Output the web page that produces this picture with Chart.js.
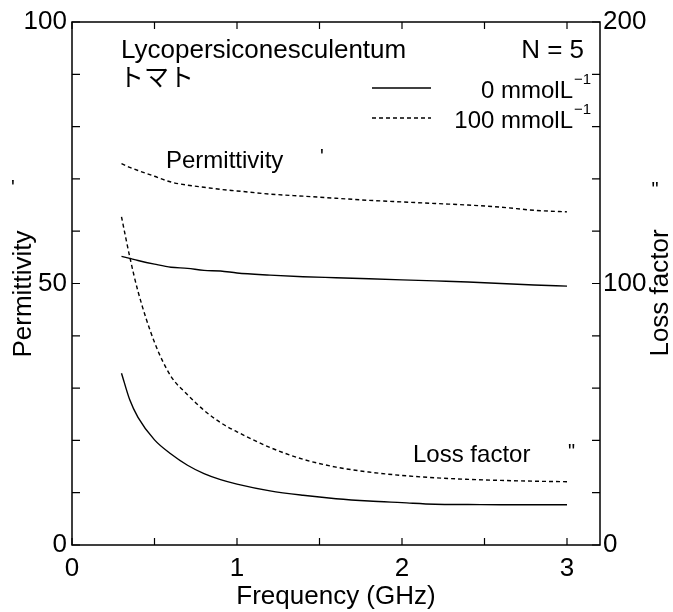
<!DOCTYPE html>
<html><head><meta charset="utf-8">
<script src="https://cdn.jsdelivr.net/npm/chart.js@4.4.0/dist/chart.umd.min.js"></script>
<style>html,body{margin:0;padding:0;background:#fff;}canvas{display:block;}</style>
</head><body>
<canvas id="c" width="673" height="612"></canvas>
<script>
const frequencyGHz     = [0.3, 0.35, 0.4, 0.5, 0.6, 0.7, 0.8, 0.9, 1.0, 1.2, 1.4, 1.6, 1.8, 2.0, 2.2, 2.4, 2.6, 2.8, 3.0];
const permittivity0    = [55.2, 54.8, 54.4, 53.7, 53.1, 52.9, 52.5, 52.4, 52.0, 51.6, 51.3, 51.1, 50.9, 50.7, 50.5, 50.3, 50.0, 49.7, 49.5];
const permittivity100  = [72.9, 72.2, 71.6, 70.5, 69.4, 68.8, 68.4, 68.0, 67.7, 67.1, 66.7, 66.3, 65.9, 65.6, 65.3, 65.0, 64.6, 64.0, 63.7];
const lossFactor0      = [65.7, 55.5, 48.8, 40.2, 34.8, 30.5, 27.3, 25.0, 23.3, 20.7, 19.0, 17.7, 16.8, 16.2, 15.6, 15.5, 15.4, 15.4, 15.4];
const lossFactor100    = [125.5, 110.2, 97.0, 77.5, 64.5, 57.5, 51.5, 46.8, 43.3, 37.3, 32.8, 29.8, 27.9, 26.6, 25.7, 25.1, 24.7, 24.4, 24.2];
const xTickValues      = [0, 0.5, 1, 1.5, 2, 2.5, 3];
const xTickLabels      = ['0', '', '1', '', '2', '', '3'];
const leftTickValues   = [0, 10, 20, 30, 40, 50, 60, 70, 80, 90, 100];
const leftTickLabels   = ['0', '', '', '', '', '50', '', '', '', '', '100'];
const rightTickValues  = [0, 20, 40, 60, 80, 100, 120, 140, 160, 180, 200];
const rightTickLabels  = ['0', '', '', '', '', '100', '', '', '', '', '200'];
const seriesLabels     = ['0 mmolL', '100 mmolL'];

const FONT = '"Liberation Sans", Arial, sans-serif';
const pts = (ys) => frequencyGHz.map((f, i) => ({x: f, y: ys[i]}));

function mkTicks(vals) { return (s) => { s.ticks = vals.map(v => ({value: v})); }; }
function lbl(vals, labels) { return (v) => { const i = vals.indexOf(v); return i >= 0 ? labels[i] : ''; }; }

const overlay = {
  id: 'overlay',
  afterDraw(chart) {
    const ctx = chart.ctx, a = chart.chartArea;
    const sx = chart.scales.x, sy = chart.scales.y, sy2 = chart.scales.y2;
    ctx.save();
    ctx.strokeStyle = '#000'; ctx.lineWidth = 1.5;
    ctx.strokeRect(a.left, a.top, a.right - a.left, a.bottom - a.top);
    ctx.lineWidth = 1.2;
    ctx.beginPath();
    xTickValues.forEach(v => {
      const p = sx.getPixelForValue(v);
      ctx.moveTo(p, a.bottom); ctx.lineTo(p, a.bottom - 7);
      ctx.moveTo(p, a.top); ctx.lineTo(p, a.top + 7);
    });
    leftTickValues.forEach(v => {
      const p = sy.getPixelForValue(v);
      ctx.moveTo(a.left, p); ctx.lineTo(a.left + 8, p);
    });
    rightTickValues.forEach(v => {
      const p = sy2.getPixelForValue(v);
      ctx.moveTo(a.right, p); ctx.lineTo(a.right - 8, p);
    });
    ctx.stroke();

    ctx.fillStyle = '#000';
    const txt = (t, x, y, size, align, fam) => {
      ctx.font = size + 'px ' + (fam || FONT); ctx.textAlign = align || 'left'; ctx.textBaseline = 'middle';
      ctx.fillText(t, x, y);
    };
    txt('Lycopersiconesculentum', 121, 51, 26);
    txt('トマト', 119, 76, 25, 'left', '"Noto Sans CJK JP"');
    txt('N = 5', 584, 51, 26, 'right');

    // legend
    ctx.lineWidth = 1.5;
    ctx.beginPath(); ctx.setLineDash([]); ctx.moveTo(372, 88); ctx.lineTo(431, 88); ctx.stroke();
    ctx.beginPath(); ctx.setLineDash([4, 3]); ctx.moveTo(372, 118); ctx.lineTo(431, 118); ctx.stroke();
    ctx.setLineDash([]);
    txt(seriesLabels[0], 573, 91, 24, 'right');
    txt('\u22121', 574, 80, 15);
    txt(seriesLabels[1], 573, 121, 24, 'right');
    txt('\u22121', 574, 110, 15);

    // annotations
    txt('Permittivity', 166, 161, 24);
    txt("'", 320, 157, 20);
    txt('Loss factor', 413, 455, 24);
    txt('"', 568, 452, 20);

    // y titles
    ctx.save(); ctx.translate(24, 294); ctx.rotate(-Math.PI / 2);
    txt('Permittivity', 0, 0, 26, 'center'); ctx.restore();
    txt("'", 13, 188, 20, 'center');
    ctx.save(); ctx.translate(661, 293); ctx.rotate(-Math.PI / 2);
    txt('Loss factor', 0, 0, 26, 'center'); ctx.restore();
    txt('"', 655, 190, 20, 'center');
    ctx.restore();
  }
};

new Chart(document.getElementById('c'), {
  type: 'line',
  data: {
    datasets: [
      {label: 'ε\' 0', data: pts(permittivity0), yAxisID: 'y'},
      {label: 'ε\' 100', data: pts(permittivity100), yAxisID: 'y', borderDash: [4, 3]},
      {label: 'ε" 0', data: pts(lossFactor0), yAxisID: 'y2'},
      {label: 'ε" 100', data: pts(lossFactor100), yAxisID: 'y2', borderDash: [4, 3]}
    ].map(d => Object.assign({borderColor: '#000', borderWidth: 1.4, pointRadius: 0, fill: false, cubicInterpolationMode: 'monotone'}, d))
  },
  options: {
    responsive: false, animation: false, devicePixelRatio: 1,
    layout: {padding: {top: 22, left: 0, right: 0, bottom: 0}},
    plugins: {legend: {display: false}, tooltip: {enabled: false}},
    scales: {
      x: {
        type: 'linear', position: 'bottom', min: 0, max: 3.2,
        afterBuildTicks: mkTicks(xTickValues),
        afterFit: s => { s.height = 67; },
        grid: {display: false, drawTicks: false}, border: {display: false},
        ticks: {callback: lbl(xTickValues, xTickLabels), color: '#000', font: {family: FONT, size: 26}, padding: 8, maxRotation: 0, autoSkip: false},
        title: {display: true, text: 'Frequency (GHz)', color: '#000', font: {family: FONT, size: 26}, padding: {top: 0, bottom: 0}}
      },
      y: {
        type: 'linear', position: 'left', min: 0, max: 100,
        afterBuildTicks: mkTicks(leftTickValues),
        afterFit: s => { s.width = 72; },
        grid: {display: false, drawTicks: false}, border: {display: false},
        ticks: {callback: lbl(leftTickValues, leftTickLabels), color: '#000', font: {family: FONT, size: 26}, padding: 5, autoSkip: false}
      },
      y2: {
        type: 'linear', position: 'right', min: 0, max: 200,
        afterBuildTicks: mkTicks(rightTickValues),
        afterFit: s => { s.width = 73; },
        grid: {display: false, drawTicks: false}, border: {display: false},
        ticks: {callback: lbl(rightTickValues, rightTickLabels), color: '#000', font: {family: FONT, size: 26}, padding: 3, autoSkip: false}
      }
    }
  },
  plugins: [overlay]
});
</script>
</body></html>
